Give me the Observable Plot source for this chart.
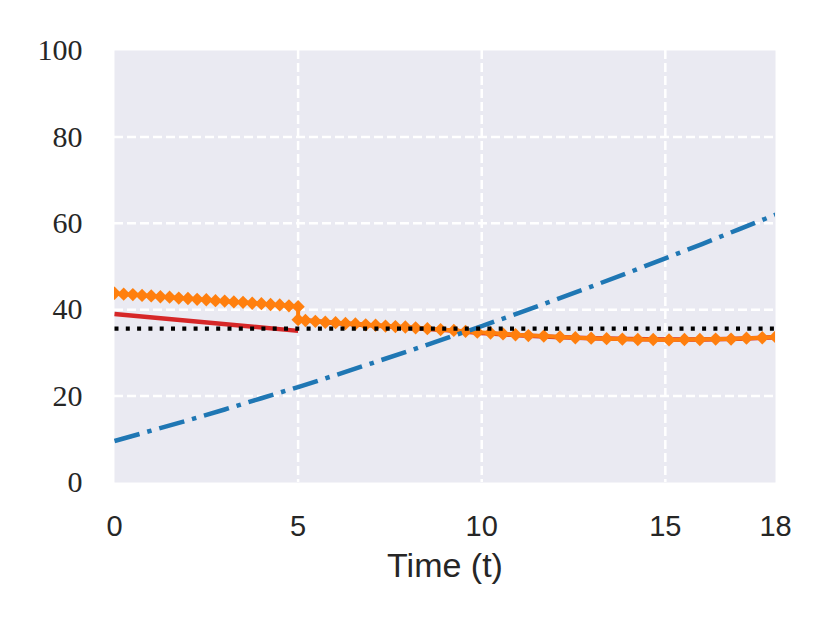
<!DOCTYPE html>
<html>
<head>
<meta charset="utf-8">
<script src="https://cdn.jsdelivr.net/npm/d3@7"></script>
<script src="https://cdn.jsdelivr.net/npm/@observablehq/plot@0.6"></script>
<style>
  html, body { margin: 0; padding: 0; background: white; }
</style>
</head>
<body>
<div id="chart"></div>
<script>
// ---- data ----
const xTicks = [0, 5, 10, 15, 18];
const yTicks = [0, 20, 40, 60, 80, 100];
const xGridTicks = [5, 10, 15];
const yGridTicks = [20, 40, 60, 80];
const xLabel = "Time (t)";

// blue dash-dot curve
const blueT = [0, 1, 2, 3, 4, 5, 6, 7, 8, 9, 10, 11, 12, 13, 14, 15, 16, 17, 18];
const blueV = [9.6, 12.0, 14.4, 16.9, 19.5, 22.1, 24.8, 27.6, 30.4, 33.3, 36.2, 39.2, 42.3, 45.4, 48.6, 51.9, 55.2, 58.6, 62.0];

// black dotted reference level
const blackT = [0, 18];
const blackV = [35.6, 35.6];

// red solid line (two pieces)
const redSeg = [1, 1, 2, 2, 2, 2, 2, 2, 2, 2, 2, 2, 2, 2, 2, 2];
const redT = [0, 5, 5, 6, 7, 8, 9, 10, 11, 12, 13, 14, 15, 16, 17, 18];
const redV = [39.0, 35.1, 37.7, 36.9, 36.4, 35.8, 35.3, 34.6, 34.1, 33.7, 33.4, 33.2, 33.1, 33.1, 33.3, 33.6];

// orange line with diamond markers
const orangeT = [
  0, 0.25, 0.5, 0.75, 1, 1.25, 1.5, 1.75, 2, 2.25, 2.5, 2.75, 3, 3.25, 3.5, 3.75, 4, 4.25, 4.5, 4.75, 5,
  5.00, 5.20, 5.47, 5.74, 6.02, 6.29, 6.56, 6.84, 7.11, 7.38, 7.65, 7.92, 8.20, 8.52, 8.88, 9.24, 9.56, 9.88,
  10.24, 10.58, 10.92, 11.27, 11.69, 12.13, 12.55, 12.98, 13.40, 13.83, 14.25, 14.67, 15.10, 15.52, 15.94,
  16.37, 16.79, 17.21, 17.64, 18.00
];
const orangeV = [
  43.8, 43.6, 43.5, 43.3, 43.2, 43.0, 42.9, 42.7, 42.6, 42.4, 42.3, 42.1, 42.0, 41.8, 41.7, 41.5, 41.4, 41.2, 41.1, 40.9, 40.7,
  37.7, 37.5, 37.3, 37.1, 37.0, 36.8, 36.7, 36.5, 36.4, 36.2, 36.1, 36.0, 35.8, 35.6, 35.4, 35.2, 35.0, 34.8,
  34.6, 34.4, 34.2, 34.0, 33.9, 33.7, 33.5, 33.4, 33.3, 33.2, 33.1, 33.1, 33.0, 33.1, 33.1,
  33.2, 33.2, 33.4, 33.5, 33.7
];

const toRows = (ts, vs) => ts.map((t, i) => ({t, v: vs[i]}));
const blue = toRows(blueT, blueV);
const black = toRows(blackT, blackV);
const red = redT.map((t, i) => ({t, v: redV[i], seg: redSeg[i]}));
const orange = toRows(orangeT, orangeV);

const textColor = "#262626";
const gridStyle = {stroke: "white", strokeOpacity: 1, strokeWidth: 2.5, strokeDasharray: "9,4"};

const chart = Plot.plot({
  width: 830,
  height: 623,
  marginLeft: 114,
  marginRight: 55,
  marginTop: 50,
  marginBottom: 141,
  style: {background: "white", color: textColor},
  x: {domain: [0, 18]},
  y: {domain: [0, 100]},
  marks: [
    Plot.frame({fill: "#eaeaf2", stroke: "none"}),
    Plot.gridX(xGridTicks, gridStyle),
    Plot.gridY(yGridTicks, gridStyle),
    Plot.line(red, {x: "t", y: "v", z: "seg", stroke: "#d62728", strokeWidth: 4.5, strokeLinecap: "butt", clip: true}),
    Plot.line(orange, {x: "t", y: "v", stroke: "#ff7f0e", strokeWidth: 4, clip: true}),
    Plot.dot(orange, {x: "t", y: "v", symbol: "diamond2", r: 6, fill: "#ff7f0e", stroke: "none", clip: true}),
    Plot.line(blue, {x: "t", y: "v", stroke: "#1f77b4", strokeWidth: 4.5, strokeDasharray: "26,8,4.5,8", strokeLinecap: "butt", clip: true}),
    Plot.line(black, {x: "t", y: "v", stroke: "black", strokeWidth: 4.2, strokeDasharray: "4,7.3", strokeLinecap: "butt", clip: true}),
    Plot.axisX(xTicks, {tickSize: 0, tickPadding: 33, fontSize: 29, fontFamily: "Liberation Sans", label: null, fill: textColor}),
    Plot.axisY(yTicks, {tickSize: 0, tickPadding: 32, fontSize: 30, fontFamily: "Liberation Serif", label: null, fill: textColor}),
    Plot.text([xLabel], {text: d => d, frameAnchor: "bottom", lineAnchor: "top", dy: 70, fontSize: 34, fontFamily: "Liberation Sans", fill: textColor})
  ]
});
document.getElementById("chart").appendChild(chart);
</script>
</body>
</html>
